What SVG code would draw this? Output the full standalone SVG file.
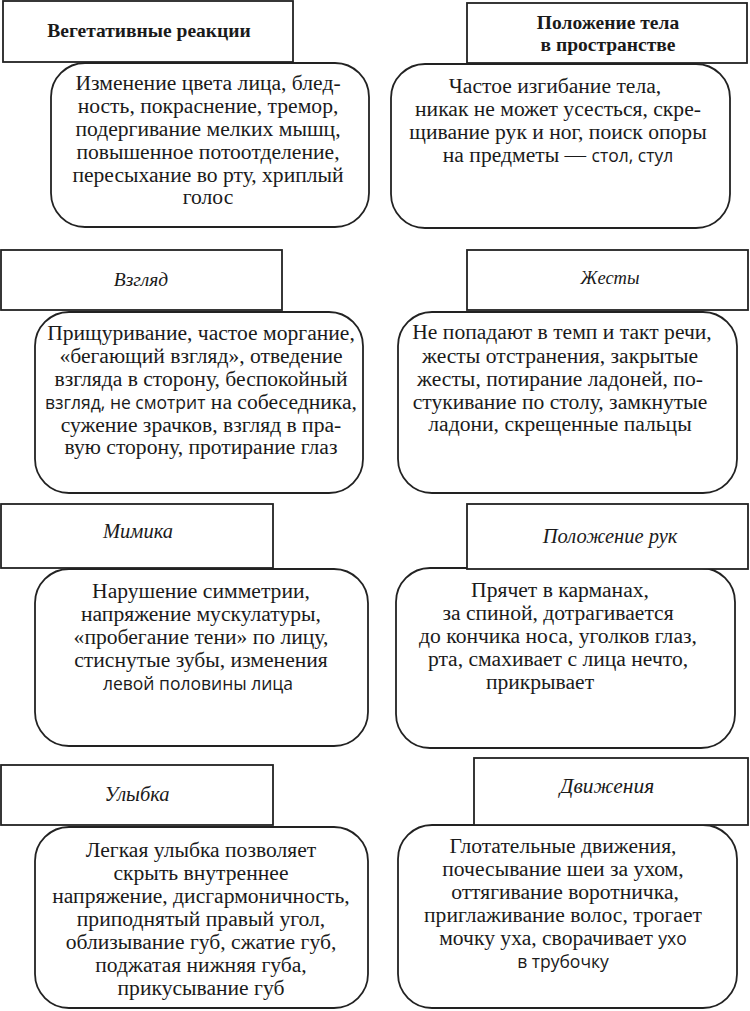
<svg xmlns="http://www.w3.org/2000/svg" width="750" height="1011" viewBox="0 0 750 1011">
<style>
.hdr{fill:#fff;stroke:#222;stroke-width:1.8}
.box{fill:#fff;stroke:#222;stroke-width:1.8}
.t{font-family:"Liberation Serif",serif;font-size:21.6px;fill:#1a1a1a;text-anchor:middle}
.h{font-family:"Liberation Serif",serif;font-size:20.5px;fill:#1a1a1a;text-anchor:middle;font-style:italic}
.hb{font-family:"Liberation Serif",serif;font-size:19.5px;fill:#1a1a1a;text-anchor:middle;font-weight:bold}
.s{font-family:"Open Sans","Liberation Sans",sans-serif;font-size:17.5px}
</style>
<rect width="750" height="1011" fill="#fff"/>
<g id="connectors"></g>

<g id="veg">
<rect class="box" x="51" y="63" width="318" height="164" rx="34"/>
<rect class="hdr" x="3" y="1" width="290" height="61"/>
<text class="hb" x="149" y="37">Вегетативные реакции</text>
<text class="t" x="208" y="90">Изменение цвета лица, блед-</text>
<text class="t" x="208" y="113">ность, покраснение, тремор,</text>
<text class="t" x="208" y="136">подергивание мелких мышц,</text>
<text class="t" x="208" y="159">повышенное потоотделение,</text>
<text class="t" x="208" y="182">пересыхание во рту, хриплый</text>
<text class="t" x="208" y="204">голос</text>
</g>

<g id="pose">
<rect class="box" x="391" y="64" width="339" height="164" rx="34"/>
<rect class="hdr" x="467" y="3" width="280" height="60"/>
<text class="hb" x="608" y="29">Положение тела</text>
<text class="hb" x="608" y="51">в пространстве</text>
<text class="t" x="555" y="93">Частое изгибание тела,</text>
<text class="t" x="558" y="116">никак не может усесться, скре-</text>
<text class="t" x="558" y="139">щивание рук и ног, поиск опоры</text>
<text class="t" x="558" y="162">на предметы — <tspan class="s">стол, стул</tspan></text>
</g>

<g id="gaze">
<rect class="box" x="35" y="312" width="328" height="181" rx="34"/>
<rect class="hdr" x="1" y="250" width="281" height="60"/>
<text class="h" x="141" y="286" style="font-size:19.5px">Взгляд</text>
<text class="t" x="201" y="340">Прищуривание, частое моргание,</text>
<text class="t" x="201" y="363">«бегающий взгляд», отведение</text>
<text class="t" x="201" y="386">взгляда в сторону, беспокойный</text>
<text class="t" x="201" y="409"><tspan class="s">взгляд, не смотрит</tspan> на собеседника,</text>
<text class="t" x="201" y="432">сужение зрачков, взгляд в пра-</text>
<text class="t" x="201" y="454">вую сторону, протирание глаз</text>
</g>

<g id="gestures">
<rect class="box" x="398" y="312" width="339" height="181" rx="34"/>
<rect class="hdr" x="467" y="250" width="281" height="60"/>
<text class="h" x="610" y="284" style="font-size:18.5px">Жесты</text>
<text class="t" x="562" y="339">Не попадают в темп и такт речи,</text>
<text class="t" x="560" y="363">жесты отстранения, закрытые</text>
<text class="t" x="560" y="386">жесты, потирание ладоней, по-</text>
<text class="t" x="560" y="409">стукивание по столу, замкнутые</text>
<text class="t" x="560" y="431">ладони, скрещенные пальцы</text>
</g>

<g id="mimic">
<rect class="box" x="35" y="569" width="333" height="177" rx="34"/>
<rect class="hdr" x="1" y="504" width="272" height="64"/>
<text class="h" x="138" y="538">Мимика</text>
<text class="t" x="201" y="598">Нарушение симметрии,</text>
<text class="t" x="201" y="621">напряжение мускулатуры,</text>
<text class="t" x="201" y="644">«пробегание тени» по лицу,</text>
<text class="t" x="201" y="667">стиснутые зубы, изменения</text>
<text class="t s" x="198" y="690">левой половины лица</text>
</g>

<g id="hands">
<rect class="box" x="396" y="568" width="339" height="180" rx="34"/>
<rect class="hdr" x="467" y="504" width="281" height="65"/>
<text class="h" x="610" y="543">Положение рук</text>
<text class="t" x="560" y="597">Прячет в карманах,</text>
<text class="t" x="558" y="620">за спиной, дотрагивается</text>
<text class="t" x="558" y="643">до кончика носа, уголков глаз,</text>
<text class="t" x="558" y="666">рта, смахивает с лица нечто,</text>
<text class="t" x="540" y="689">прикрывает</text>
</g>

<g id="smile">
<rect class="box" x="35" y="827" width="333" height="181" rx="34"/>
<rect class="hdr" x="1" y="765" width="272" height="60"/>
<text class="h" x="137" y="801">Улыбка</text>
<text class="t" x="201" y="857">Легкая улыбка позволяет</text>
<text class="t" x="201" y="880">скрыть внутреннее</text>
<text class="t" x="201" y="903">напряжение, дисгармоничность,</text>
<text class="t" x="201" y="926">приподнятый правый угол,</text>
<text class="t" x="201" y="949">облизывание губ, сжатие губ,</text>
<text class="t" x="201" y="972">поджатая нижняя губа,</text>
<text class="t" x="201" y="995">прикусывание губ</text>
</g>

<g id="moves">
<rect class="box" x="398" y="825" width="339" height="183" rx="34"/>
<rect class="hdr" x="474" y="758" width="274" height="67"/>
<text class="h" x="607" y="793" style="font-size:21.5px">Движения</text>
<text class="t" x="563" y="853">Глотательные движения,</text>
<text class="t" x="563" y="876">почесывание шеи за ухом,</text>
<text class="t" x="565" y="899">оттягивание воротничка,</text>
<text class="t" x="563" y="922">приглаживание волос, трогает</text>
<text class="t" x="563" y="945">мочку уха, сворачивает <tspan class="s">ухо</tspan></text>
<text class="t s" x="563" y="968">в трубочку</text>
</g>
</svg>
